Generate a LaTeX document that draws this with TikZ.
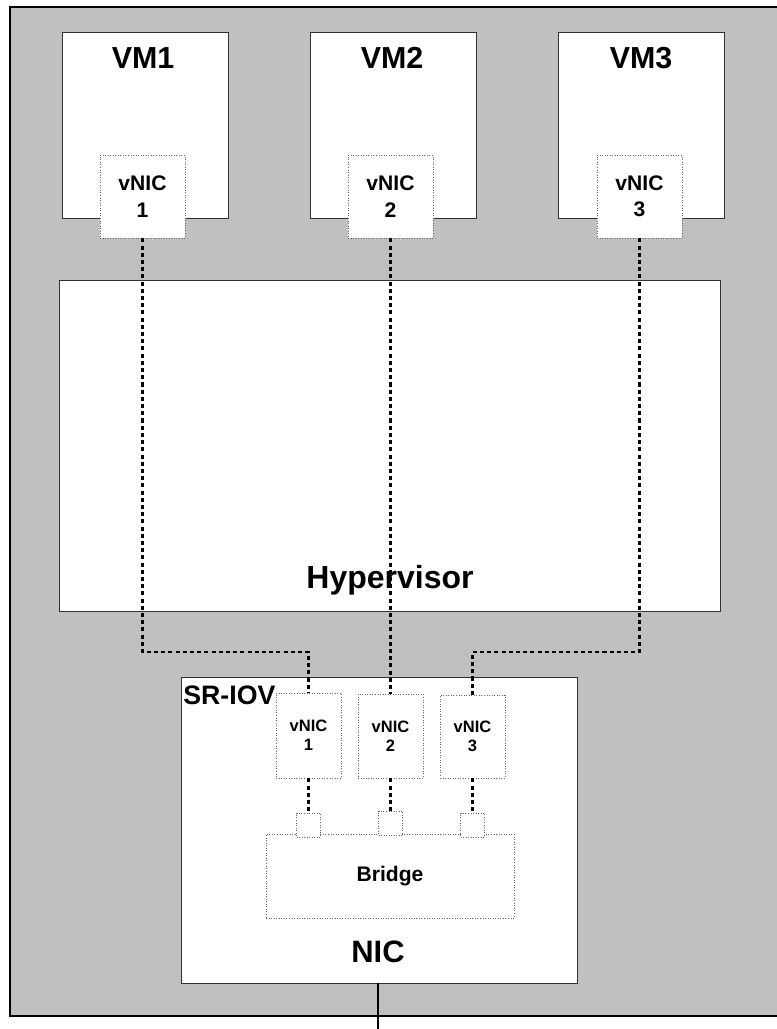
\documentclass[tikz,border=0pt]{standalone}
\usepackage{fontspec}
\setmainfont{Liberation Sans}
\usepackage{tikz}
\usetikzlibrary{positioning}

\definecolor{hostgray}{HTML}{C0C0C0}

\tikzset{
  vmbox/.style={draw=black!80, fill=white, line width=0.5pt, inner sep=0pt},
  nicbox/.style={draw=black!60, densely dotted, fill=white, line width=0.45pt, inner sep=0pt,
    align=center, font=\bfseries\fontsize{12}{15}\selectfont},
  vfbox/.style={nicbox, minimum width=1.3cm, font=\bfseries\fontsize{9.4}{10.8}\selectfont},
  vflink/.style={line width=1.6pt, dash pattern=on 2.3pt off 1.8pt},
  biglabel/.style={font=\bfseries\fontsize{17.3}{20}\selectfont, inner sep=0pt}
}

\begin{document}
\begin{tikzpicture}[x=0.02cm, y=-0.02cm]
\useasboundingbox (0,0) rectangle (777,1029);

% host
\draw[fill=hostgray, line width=0.9pt] (10,7) rectangle (800,1016);

% virtual machines
\node[vmbox, minimum width=3.32cm, minimum height=3.72cm] (vm1) at (145,125) {};
\node[vmbox, minimum width=3.32cm, minimum height=3.72cm] (vm2) at (393,125) {};
\node[vmbox, minimum width=3.32cm, minimum height=3.72cm] (vm3) at (641.5,125) {};
\node[biglabel] (vm1label) at (143,58) {VM1};
\node[biglabel] (vm2label) at (392,58) {VM2};
\node[biglabel] (vm3label) at (641,58) {VM3};

\node[nicbox, minimum width=1.7cm, minimum height=1.66cm] (vnic1) at (142.5,196.5) {vNIC\\1};
\node[nicbox, minimum width=1.7cm, minimum height=1.66cm] (vnic2) at (390.5,196.5) {vNIC\\2};
\node[nicbox, minimum width=1.7cm, minimum height=1.66cm] (vnic3) at (639.5,196.5) {vNIC\\3};

% hypervisor
\node[vmbox, minimum width=13.24cm, minimum height=6.62cm] (hyp) at (390,445.5) {};
\node[biglabel, font=\bfseries\fontsize{18.2}{20}\selectfont] (hyplabel) at (390,580) {Hypervisor};

% physical nic
\node[vmbox, minimum width=7.92cm, minimum height=6.12cm] (nic) at (379,830) {};
\node[biglabel, font=\bfseries\fontsize{17.6}{20}\selectfont] (niclabel) at (378,952) {NIC};
\node[biglabel, font=\bfseries\fontsize{15.2}{18}\selectfont, anchor=west] (sriov) at (183,695) {SR-IOV};

\node[vfbox, minimum height=1.7cm] (vf1) at (308.5,735.5) {vNIC\\1};
\node[vfbox, minimum height=1.68cm] (vf2) at (390.5,736) {vNIC\\2};
\node[vfbox, minimum height=1.66cm] (vf3) at (472.5,736.5) {vNIC\\3};

\node[nicbox, minimum width=4.96cm, minimum height=1.68cm] (bridge) at (390,876) {Bridge};
\node[nicbox, minimum size=0.48cm] (port1) at (308.5,825) {};
\node[nicbox, minimum size=0.48cm] (port2) at (390.5,823) {};
\node[nicbox, minimum size=0.48cm] (port3) at (472.5,825) {};

% links
\coordinate (kink) at (0,652);
\draw[vflink] (vnic1.south) -- (vnic1.south |- kink) -| (vf1.north);
\draw[vflink] (vnic2.south) -- (vf2.north);
\draw[vflink] (vnic3.south) -- (vnic3.south |- kink) -| (vf3.north);

\draw[vflink] (vf1.south) -- (port1.north);
\draw[vflink] (vf2.south) -- (port2.north);
\draw[vflink] (vf3.south) -- (port3.north);

\coordinate (wire) at (378,1029);
\draw[line width=1.3pt] (nic.south -| wire) -- (wire);

\end{tikzpicture}
\end{document}
